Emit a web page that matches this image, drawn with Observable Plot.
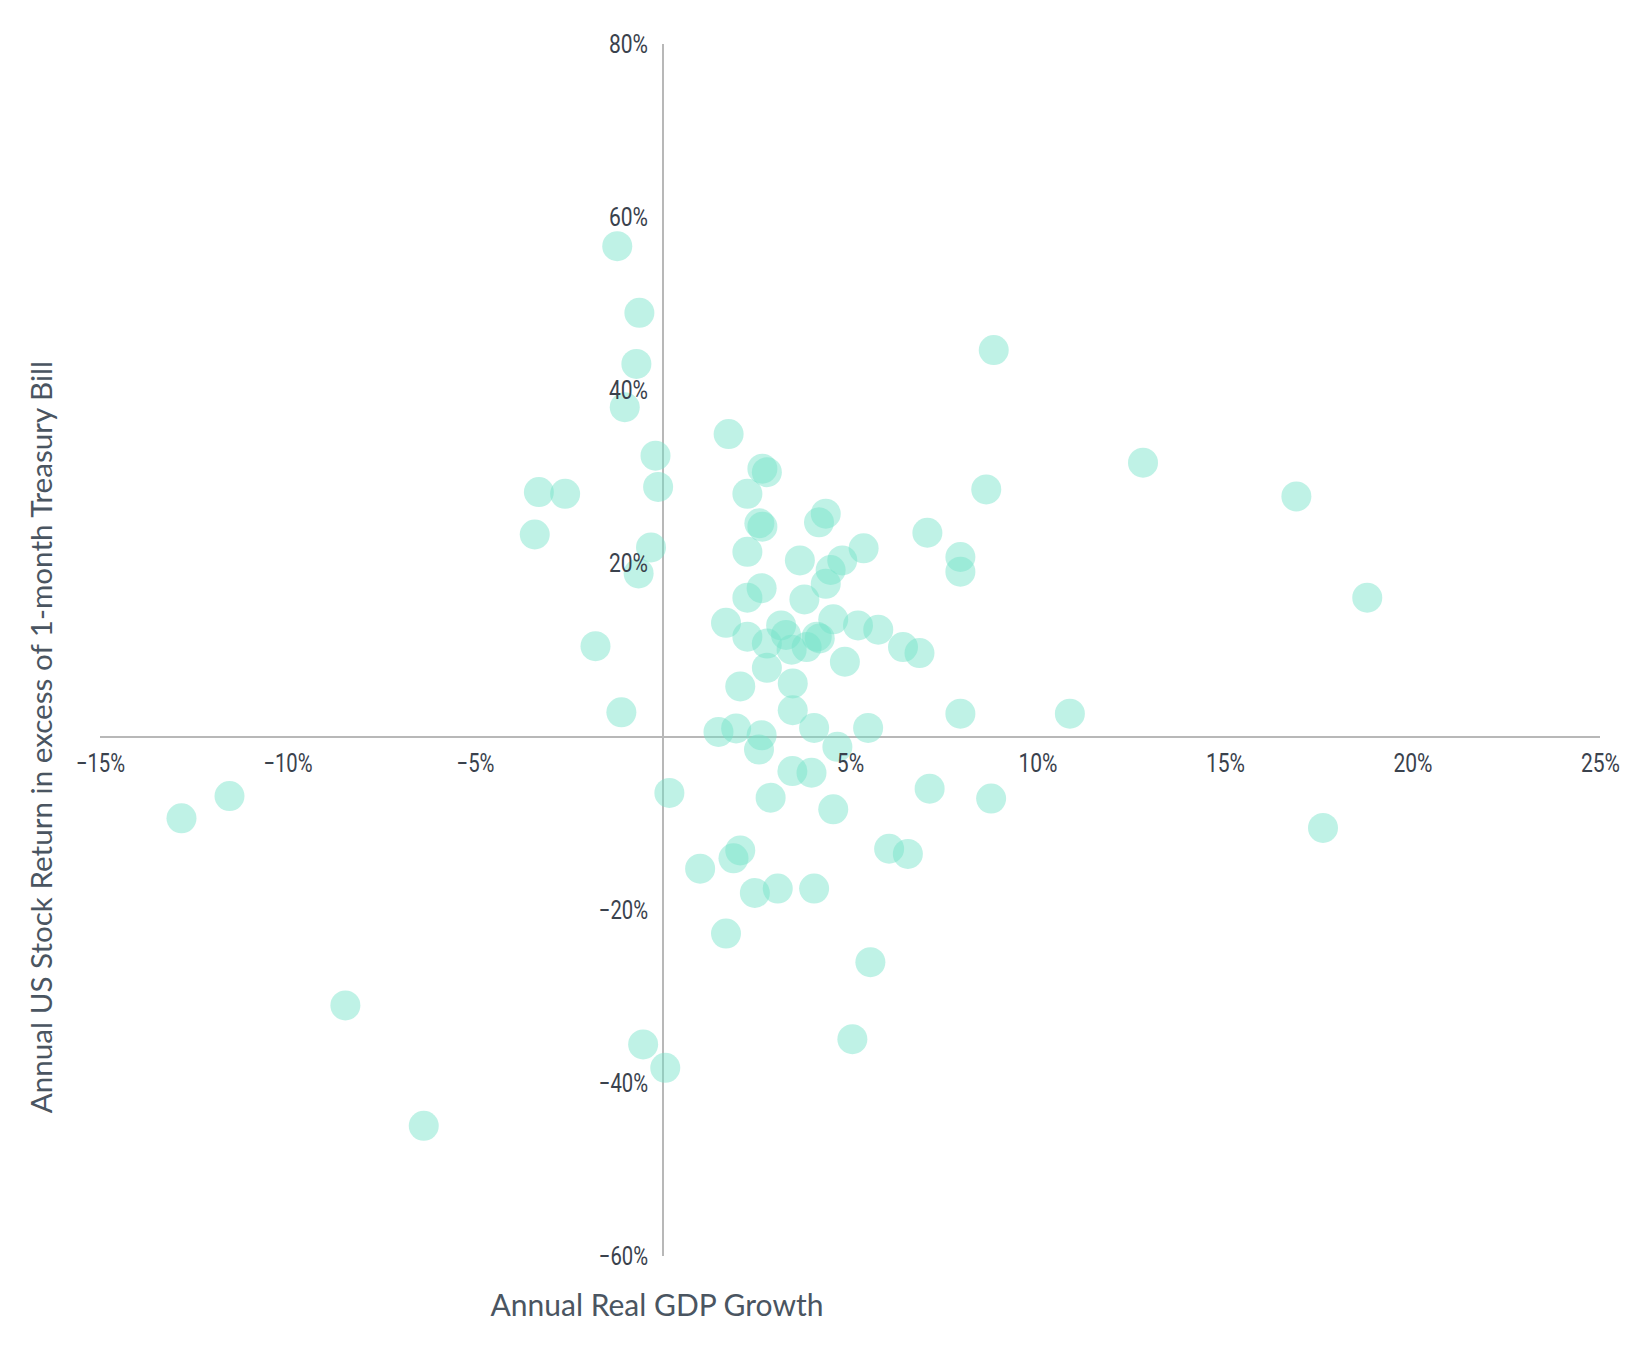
<!DOCTYPE html>
<html>
<head>
<meta charset="utf-8">
<script src="https://cdn.jsdelivr.net/npm/d3@7"></script>
<script src="https://cdn.jsdelivr.net/npm/@observablehq/plot@0.6"></script>
<style>
  html, body { margin: 0; padding: 0; background: #ffffff; }
  #chart { width: 1638px; height: 1346px; }
</style>
</head>
<body>
<div id="chart"></div>
<script>
// Annual real GDP growth (%), x
const gdpGrowth = [
  -1.22, -0.63, -0.71, -1.02, 1.75, -0.20, -0.13, -3.31, -2.61, -3.42,
  -0.32, -0.65, -1.80, -1.11, 2.65, 2.77, 2.25, 8.62, 4.34, 4.16,
  2.57, 2.65, 7.05, 2.25, 5.35, 3.65, 4.78, 7.93, 7.93, 4.47,
  4.34, 2.63, 2.25, 3.77, 1.68, 4.54, 3.15, 5.20, 5.74, 2.25,
  3.28, 4.10, 4.18, 2.77, 3.83, 3.43, 6.40, 6.84, 4.85, 2.77,
  2.06, 3.46, 3.46, 7.93, 1.48, 1.95, 2.63, 4.03, 5.47, 10.85,
  2.56, 4.65, 3.45, 3.96, 0.17, 2.87, 4.54, 7.11, 6.03, 6.53,
  2.06, 1.88, 0.99, 2.45, 3.06, 4.03, 1.68, 5.53, -12.84, -11.56,
  -8.47, -6.38, -0.53, 0.06, 8.82, 12.80, 16.89, 18.78, 17.60, 8.75,
  5.05
];
// Annual US stock return in excess of 1-month T-bill (%), y
const excessReturn = [
  56.7, 49.0, 43.1, 38.1, 35.0, 32.5, 28.9, 28.3, 28.1, 23.4,
  21.9, 18.9, 10.5, 2.86, 31.0, 30.6, 28.1, 28.6, 25.8, 24.8,
  24.7, 24.3, 23.6, 21.4, 21.8, 20.4, 20.4, 20.8, 19.1, 19.3,
  17.7, 17.2, 16.1, 15.9, 13.2, 13.6, 12.9, 12.9, 12.4, 11.6,
  11.8, 11.6, 11.4, 10.8, 10.4, 10.1, 10.4, 9.7, 8.7, 8.0,
  5.85, 6.2, 3.1, 2.7, 0.6, 1.0, 0.2, 1.05, 1.06, 2.7,
  -1.44, -1.13, -3.93, -4.12, -6.45, -7.0, -8.34, -5.96, -12.9, -13.5,
  -13.1, -14.0, -15.2, -18.0, -17.5, -17.5, -22.7, -26.0, -9.38, -6.81,
  -31.0, -44.9, -35.5, -38.2, 44.7, 31.7, 27.8, 16.1, -10.5, -7.1,
  -34.9
];
const xTicks = [-15, -10, -5, 5, 10, 15, 20, 25];
const yTicks = [80, 60, 40, 20, -20, -40, -60];
const xTitle = "Annual Real GDP Growth";
const yTitle = "Annual US Stock Return in excess of 1-month Treasury Bill";

const points = gdpGrowth.map((g, i) => ({gdp: g, ret: excessReturn[i]}));
const pct = d => (d < 0 ? "\u2212" : "") + Math.abs(d) + "%";

const tickFont = 'Roboto, "Noto Sans", sans-serif';
const titleFont = 'Lato, "Noto Sans", sans-serif';

const chart = Plot.plot({
  width: 1638,
  height: 1346,
  marginLeft: 100,
  marginRight: 38,
  marginTop: 44,
  marginBottom: 90,
  style: {background: "#ffffff", overflow: "visible"},
  x: {domain: [-15, 25], axis: null},
  y: {domain: [-60, 80], axis: null},
  marks: [
    Plot.ruleY([0], {stroke: "#b8b8b8", strokeWidth: 2}),
    Plot.ruleX([0], {stroke: "#b8b8b8", strokeWidth: 2}),
    Plot.dot(points, {
      x: "gdp", y: "ret", r: 15,
      fill: "#74e2c9", fillOpacity: 0.46, stroke: null
    }),
    Plot.text(xTicks, {
      x: d => d, y: () => 0, text: pct,
      dy: 27, lineAnchor: "middle", textAnchor: "middle",
      fontSize: 26, fontFamily: tickFont, fill: "#3a424d"
    }),
    Plot.text(yTicks, {
      x: () => 0, y: d => d, text: pct,
      dx: -15, lineAnchor: "middle", textAnchor: "end",
      fontSize: 26, fontFamily: tickFont, fill: "#3a424d"
    }),
    Plot.text([xTitle], {
      x: () => 0, frameAnchor: "bottom", text: d => d,
      dx: -6, dy: 50, lineAnchor: "middle", textAnchor: "middle",
      fontSize: 30, fontFamily: titleFont, fill: "#4a5561"
    }),
    Plot.text([yTitle], {
      y: () => 0, frameAnchor: "left", text: d => d,
      dx: -58, rotate: -90, lineAnchor: "middle", textAnchor: "middle",
      fontSize: 29.6, fontFamily: titleFont, fill: "#4a5561"
    })
  ]
});
document.getElementById("chart").appendChild(chart);

// Condense tick labels (the reference uses a condensed face)
d3.select(chart).selectAll("text")
  .filter(function() { return /%$/.test(this.textContent); })
  .each(function() {
    const w = this.getComputedTextLength();
    const k = this.textContent.startsWith("\u2212") ? 0.78 : 0.81;
    this.setAttribute("lengthAdjust", "spacingAndGlyphs");
    this.setAttribute("textLength", (w * k).toFixed(1));
  });
</script>
</body>
</html>
